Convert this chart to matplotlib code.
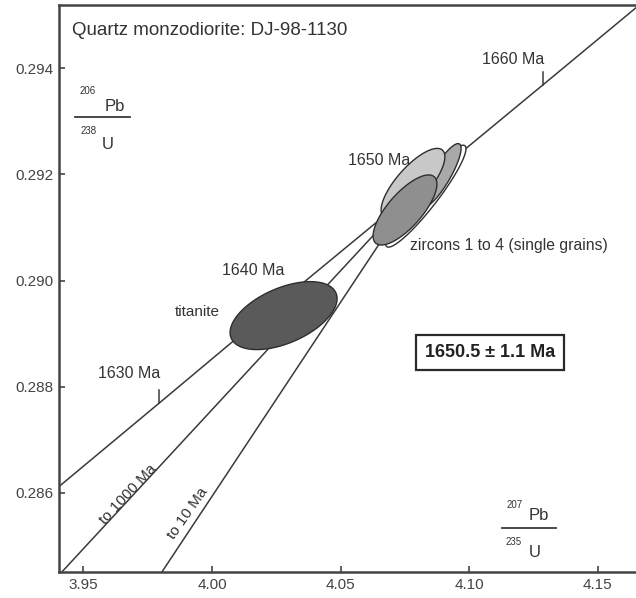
import numpy as np
import matplotlib
matplotlib.use("Agg")
import matplotlib.pyplot as plt

plt.rcParams['font.family'] = ['Liberation Sans', 'DejaVu Sans']

# concordia curve, vertices (207Pb/235U, 206Pb/238U)
concordia_x = [3.9405, 3.9794, 4.0287, 4.0785, 4.1287, 4.1648]
concordia_y = [0.28612, 0.28769, 0.28969, 0.29168, 0.29369, 0.29514]

# age marks on the concordia
tick_ages = [1630, 1660]
tick_x = [3.9794, 4.1287]
tick_y = [0.28769, 0.29369]

# discordia lines from the upper intercept down to the lower intercepts
upper_x, upper_y = 4.0785, 0.29168
discordia_names = ['to 1000 Ma', 'to 10 Ma']
discordia_low_x = [3.9416, 3.9805]
discordia_low_y = [0.28451, 0.28451]

# error ellipses: centre, half ranges, correlation
ell_names = ['zircon C', 'zircon B', 'zircon A', 'zircon D', 'titanite']
ell_cx = [4.0831, 4.0890, 4.0781, 4.0750, 4.0278]
ell_cy = [0.29159, 0.29198, 0.29183, 0.29133, 0.28934]
ell_sx = [0.0156, 0.0078, 0.0124, 0.0124, 0.0208]
ell_sy = [0.00096, 0.00060, 0.00066, 0.00066, 0.00064]
ell_rho = [0.93, 0.85, 0.76, 0.74, 0.50]
ell_fill = ['#ffffff', '#a9a9a9', '#c8c8c8', '#8f8f8f', '#5a5a5a']

x_ticks = [3.95, 4.00, 4.05, 4.10, 4.15]
y_ticks = [0.286, 0.288, 0.290, 0.292, 0.294]


def ellipse_xy(cx, cy, sx, sy, rho, n=200):
    t = np.linspace(0, 2 * np.pi, n)
    x = cx + sx * np.cos(t)
    y = cy + sy * (rho * np.cos(t) + np.sqrt(1 - rho ** 2) * np.sin(t))
    return x, y


fig = plt.figure(figsize=(6.36, 5.98), dpi=100)
ax = fig.add_axes([0.0928, 0.0435, 0.9072, 0.948])
ax.set_xlim(3.9405, 4.1648)
ax.set_ylim(0.28451, 0.29519)

line_col = '#3a3a3a'
ax.plot(concordia_x, concordia_y, color=line_col, lw=1.1, zorder=1)
for tx, ty in zip(tick_x, tick_y):
    ax.plot([tx, tx], [ty, ty + 0.000245], color=line_col, lw=1.1, zorder=1)
for lx, ly in zip(discordia_low_x, discordia_low_y):
    ax.plot([lx, upper_x], [ly, upper_y], color=line_col, lw=1.1, zorder=1)

for i in range(len(ell_names)):
    ex, ey = ellipse_xy(ell_cx[i], ell_cy[i], ell_sx[i], ell_sy[i], ell_rho[i])
    ax.fill(ex, ey, facecolor=ell_fill[i], edgecolor='#2e2e2e', lw=1.0, zorder=2 + i)

txt_col = '#333333'
ax.text(3.9455, 0.29472, 'Quartz monzodiorite: DJ-98-1130', fontsize=13.5,
        color=txt_col, va='center', ha='left')
ax.text(4.1049, 0.29417, '1660 Ma', fontsize=11.5, color=txt_col, va='center')
ax.text(4.0528, 0.29226, '1650 Ma', fontsize=11.5, color=txt_col, va='center')
ax.text(4.0769, 0.29066, 'zircons 1 to 4 (single grains)', fontsize=11.3,
        color=txt_col, va='center')
ax.text(4.0038, 0.29019, '1640 Ma', fontsize=11.5, color=txt_col, va='center')
ax.text(3.9856, 0.28940, 'titanite', fontsize=11, color=txt_col, va='center')
ax.text(3.9556, 0.28825, '1630 Ma', fontsize=11.5, color=txt_col, va='center')

ax.text(3.9673, 0.28598, discordia_names[0], fontsize=11, color=txt_col,
        rotation=47, ha='center', va='center', rotation_mode='anchor')
ax.text(3.9906, 0.28562, discordia_names[1], fontsize=11, color=txt_col,
        rotation=55, ha='center', va='center', rotation_mode='anchor')

ax.text(4.1080, 0.288645, '1650.5 ± 1.1 Ma', fontsize=13, fontweight='bold',
        color='#222222', ha='center', va='center',
        bbox=dict(boxstyle='square,pad=0.5', fc='white', ec='#2a2a2a', lw=1.6))

# isotope ratio labels
ax.plot([3.9467, 3.9681], [0.293078, 0.293078], color=line_col, lw=1.3)
ax.text(3.95175, 0.293567, '206', fontsize=7, color=txt_col, ha='center', va='center')
ax.text(3.96224, 0.293285, 'Pb', fontsize=12, color=txt_col, ha='center', va='center')
ax.text(3.95214, 0.292814, '238', fontsize=7, color=txt_col, ha='center', va='center')
ax.text(3.95952, 0.292569, 'U', fontsize=12, color=txt_col, ha='center', va='center')

ax.plot([4.11268, 4.13367], [0.285341, 0.285341], color=line_col, lw=1.3)
ax.text(4.11773, 0.285774, '207', fontsize=7, color=txt_col, ha='center', va='center')
ax.text(4.12706, 0.285567, 'Pb', fontsize=12, color=txt_col, ha='center', va='center')
ax.text(4.11734, 0.285078, '235', fontsize=7, color=txt_col, ha='center', va='center')
ax.text(4.12551, 0.284871, 'U', fontsize=12, color=txt_col, ha='center', va='center')

ax.set_xticks(x_ticks)
ax.set_xticklabels([f'{v:.2f}' for v in x_ticks])
ax.set_yticks(y_ticks)
ax.set_yticklabels([f'{v:.3f}' for v in y_ticks])
ax.tick_params(direction='in', length=4, width=1.2, color='#444444',
               labelsize=11, labelcolor='#444444', pad=4)

for side in ['left', 'bottom', 'top']:
    ax.spines[side].set_color('#444444')
    ax.spines[side].set_linewidth(1.8)
ax.spines['right'].set_visible(False)

fig.savefig('out.png', dpi=100)
